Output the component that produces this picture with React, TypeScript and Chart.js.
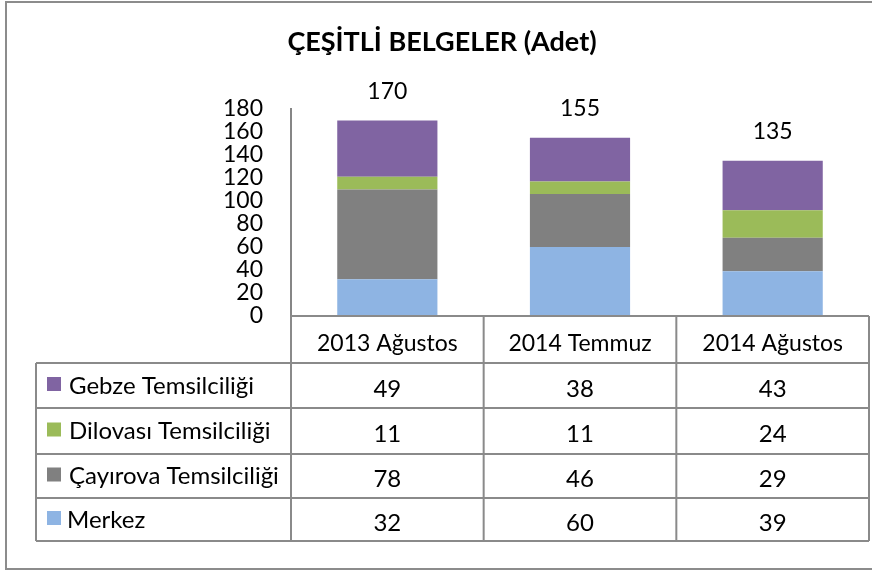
import React, { useEffect, useRef } from "react";
import { Chart, registerables } from "chart.js";

Chart.register(...registerables);

const TITLE = "ÇEŞİTLİ BELGELER (Adet)";
const categories = ["2013 Ağustos", "2014 Temmuz", "2014 Ağustos"];
const seriesNames = ["Gebze Temsilciliği", "Dilovası Temsilciliği", "Çayırova Temsilciliği", "Merkez"];
const gebze = [49, 38, 43];
const dilovasi = [11, 11, 24];
const cayirova = [78, 46, 29];
const merkez = [32, 60, 39];
const seriesValues = [gebze, dilovasi, cayirova, merkez];
const seriesColors = ["#8064A2", "#9BBB59", "#808080", "#8EB4E3"];
const yMin = 0;
const yMax = 180;
const yStep = 20;

const FONT = "Lato, 'Open Sans', sans-serif";
const LINE = "#8a8a8a";

const tablePlugin = {
  id: "tablePlugin",
  afterDraw(chart: any) {
    const ctx = chart.ctx as CanvasRenderingContext2D;
    const area = chart.chartArea;
    const xs = chart.scales.x;
    const ys = chart.scales.y;
    ctx.save();

    // outer frame
    ctx.strokeStyle = "#8c8c8c";
    ctx.lineWidth = 2;
    ctx.strokeRect(6, 2, 880, 567);

    // title
    ctx.fillStyle = "#000";
    ctx.font = `bold 27px ${FONT}`;
    ctx.textAlign = "center";
    ctx.textBaseline = "alphabetic";
    ctx.fillText(TITLE, 442, 51);

    // totals
    ctx.font = `23px ${FONT}`;
    ctx.textBaseline = "middle";
    categories.forEach((_, i) => {
      const total = seriesValues.reduce((s, arr) => s + arr[i], 0);
      const x = xs.getPixelForValue(i);
      const y = ys.getPixelForValue(total);
      ctx.fillText(String(total), x, y - 29);
    });

    // table
    const left = area.left;
    const right = area.right;
    const top = area.bottom;
    const headerBottom = 363;
    const rows = [363, 408, 454, 498, 541];
    const tableLeft = 36;
    const n = categories.length;
    const colW = (right - left) / n;
    const edges = Array.from({ length: n + 1 }, (_, i) => left + i * colW);

    ctx.strokeStyle = LINE;
    ctx.lineWidth = 2;
    ctx.beginPath();
    ctx.moveTo(left, top);
    ctx.lineTo(right, top);
    rows.forEach((y) => {
      ctx.moveTo(tableLeft, y);
      ctx.lineTo(right, y);
    });
    edges.forEach((x) => {
      ctx.moveTo(x, top);
      ctx.lineTo(x, rows[rows.length - 1]);
    });
    ctx.moveTo(tableLeft, rows[0]);
    ctx.lineTo(tableLeft, rows[rows.length - 1]);
    ctx.stroke();

    // header text
    ctx.fillStyle = "#000";
    ctx.font = `23px ${FONT}`;
    ctx.textAlign = "center";
    ctx.textBaseline = "alphabetic";
    categories.forEach((c, i) => {
      const cx = xs.getPixelForValue(i);
      ctx.fillText(c, cx, (top + headerBottom) / 2 + 11);
    });

    // rows
    seriesNames.forEach((name, r) => {
      const y0 = rows[r];
      const y1 = rows[r + 1];
      const cy = (y0 + y1) / 2;
      ctx.fillStyle = seriesColors[r];
      ctx.fillRect(47, cy - 8.5, 14, 14);
      ctx.fillStyle = "#000";
      ctx.textAlign = "left";
      ctx.font = `24px ${FONT}`;
      ctx.fillText(name, name === "Merkez" ? 67 : 69, cy + 8);
      ctx.textAlign = "center";
      seriesValues[r].forEach((v, i) => {
        ctx.fillText(String(v), xs.getPixelForValue(i), cy + 11);
      });
    });

    ctx.restore();
  },
};

export default function App() {
  const ref = useRef<HTMLCanvasElement | null>(null);
  useEffect(() => {
    if (!ref.current) return;
    const order = [3, 2, 1, 0];
    const chart = new Chart(ref.current, {
      type: "bar",
      data: {
        labels: categories,
        datasets: order.map((k) => ({
          label: seriesNames[k],
          data: seriesValues[k],
          backgroundColor: seriesColors[k],
          borderWidth: 0,
          barPercentage: 0.52,
          categoryPercentage: 1,
        })),
      },
      options: {
        animation: false,
        responsive: false,
        maintainAspectRatio: false,
        layout: { padding: { top: 109, bottom: 256, right: 3, left: 0 } },
        plugins: {
          legend: { display: false },
          title: { display: false },
          tooltip: { enabled: false },
        },
        scales: {
          x: { stacked: true, display: false },
          y: {
            stacked: true,
            min: yMin,
            max: yMax,
            ticks: {
              stepSize: yStep,
              autoSkip: false,
              color: "#000",
              padding: 28,
              font: { family: FONT, size: 23 },
            },
            grid: { display: false, drawTicks: false },
            border: { display: true, color: "#868686", width: 2 },
            afterFit(scale: any) {
              scale.width = 291;
            },
          },
        },
      },
      plugins: [tablePlugin],
    });
    return () => chart.destroy();
  }, []);
  return (
    <div style={{ position: "absolute", left: 0, top: 0, width: 872, height: 572, background: "#fff" }}>
      <canvas ref={ref} width={872} height={572} style={{ display: "block" }} />
    </div>
  );
}
